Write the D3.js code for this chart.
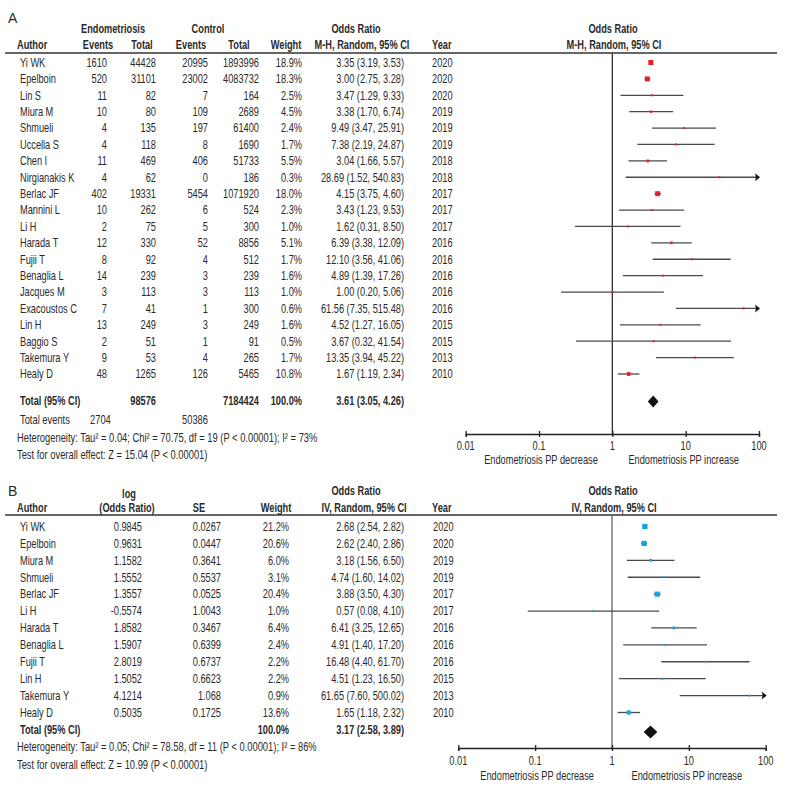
<!DOCTYPE html>
<html><head><meta charset="utf-8">
<script src="https://cdn.jsdelivr.net/npm/d3@7"></script>
<style>body{margin:0;background:#fff}</style>
</head><body>
<svg id="c" width="787" height="788"></svg>
<script>
// ---------- Panel A data ----------
const authorsA = ["Yi WK","Epelboin","Lin S","Miura M","Shmueli","Uccella S","Chen I","Nirgianakis K","Berlac JF","Mannini L","Li H","Harada T","Fujii T","Benaglia L","Jacques M","Exacoustos C","Lin H","Baggio S","Takemura Y","Healy D"];
const endoEvents = [1610,520,11,10,4,4,11,4,402,10,2,12,8,14,3,7,13,2,9,48];
const endoTotal = [44428,31101,82,80,135,118,469,62,19331,262,75,330,92,239,113,41,249,51,53,1265];
const ctrlEvents = [20995,23002,7,109,197,8,406,0,5454,6,5,52,4,3,3,1,3,1,4,126];
const ctrlTotal = [1893996,4083732,164,2689,61400,1690,51733,186,1071920,524,300,8856,512,239,113,300,249,91,265,5465];
const weightA = [18.9,18.3,2.5,4.5,2.4,1.7,5.5,0.3,18.0,2.3,1.0,5.1,1.7,1.6,1.0,0.6,1.6,0.5,1.7,10.8];
const orA = [3.35,3.00,3.47,3.38,9.49,7.38,3.04,28.69,4.15,3.43,1.62,6.39,12.10,4.89,1.00,61.56,4.52,3.67,13.35,1.67];
const loA = [3.19,2.75,1.29,1.70,3.47,2.19,1.66,1.52,3.75,1.23,0.31,3.38,3.56,1.39,0.20,7.35,1.27,0.32,3.94,1.19];
const hiA = [3.53,3.28,9.33,6.74,25.91,24.87,5.57,540.83,4.60,9.53,8.50,12.09,41.06,17.26,5.06,515.48,16.05,41.54,45.22,2.34];
const yearA = [2020,2020,2020,2019,2019,2019,2018,2018,2017,2017,2017,2016,2016,2016,2016,2016,2015,2015,2013,2010];
const totalA = {endoTotal:98576, ctrlTotal:7184424, endoEvents:2704, ctrlEvents:50386, or:3.61, lo:3.05, hi:4.26};
const hetA = "Heterogeneity: Tau\u00B2 = 0.04; Chi\u00B2 = 70.75, df = 19 (P < 0.00001); I\u00B2 = 73%";
const testA = "Test for overall effect: Z = 15.04 (P < 0.00001)";

// ---------- Panel B data ----------
const authorsB = ["Yi WK","Epelboin","Miura M","Shmueli","Berlac JF","Li H","Harada T","Benaglia L","Fujii T","Lin H","Takemura Y","Healy D"];
const logOR = [0.9845,0.9631,1.1582,1.5552,1.3557,-0.5574,1.8582,1.5907,2.8019,1.5052,4.1214,0.5035];
const seB = [0.0267,0.0447,0.3641,0.5537,0.0525,1.0043,0.3467,0.6399,0.6737,0.6623,1.068,0.1725];
const weightB = [21.2,20.6,6.0,3.1,20.4,1.0,6.4,2.4,2.2,2.2,0.9,13.6];
const orB = [2.68,2.62,3.18,4.74,3.88,0.57,6.41,4.91,16.48,4.51,61.65,1.65];
const loB = [2.54,2.40,1.56,1.60,3.50,0.08,3.25,1.40,4.40,1.23,7.60,1.18];
const hiB = [2.82,2.86,6.50,14.02,4.30,4.10,12.65,17.20,61.70,16.50,500.02,2.32];
const yearB = [2020,2020,2019,2019,2017,2017,2016,2016,2016,2015,2013,2010];
const totalB = {or:3.17, lo:2.58, hi:3.89};
const hetB = "Heterogeneity: Tau\u00B2 = 0.05; Chi\u00B2 = 78.58, df = 11 (P < 0.00001); I\u00B2 = 86%";
const testB = "Test for overall effect: Z = 10.99 (P < 0.00001)";

const tickVals = [0.01,0.1,1,10,100];
const tickLabels = ["0.01","0.1","1","10","100"];
const sideLabels = ["Endometriosis PP decrease","Endometriosis PP increase"];

// ---------- setup ----------
const svg = d3.select("#c");
const fam = "'Liberation Sans', Arial, sans-serif";
const TXT = "#2a2a2a";

function T(x, y, s, o = {}) {
  const fs = o.fs || 12;
  const sx = o.sx || 0.77;
  return svg.append("text")
    .attr("transform", `translate(${x},${y + fs*0.36}) scale(${sx},1)`)
    .attr("text-anchor", o.a || "start")
    .attr("font-weight", o.b ? "bold" : "normal")
    .attr("font-size", fs)
    .attr("font-family", fam)
    .attr("fill", TXT)
    .text(s);
}
const NOTE = {fs: 12, sx: 0.78};
const f2 = v => v.toFixed(2);
const ciTxt = (o,l,h) => `${f2(o)} (${f2(l)}, ${f2(h)})`;

function forest(x, yOf, n, ors, los, his, ws, color, yTop, axisY, ciColor, vColor, total, totalY, diamondH, tickLblY, sideY) {
  svg.append("line").attr("x1", x(1)).attr("x2", x(1)).attr("y1", yTop).attr("y2", axisY)
    .attr("stroke", vColor).attr("stroke-width", 1.3);
  for (let i = 0; i < n; i++) {
    const y = yOf(i);
    const lo = Math.max(los[i], 0.01), hi = Math.min(his[i], 100);
    svg.append("line").attr("x1", x(lo)).attr("x2", x(hi)).attr("y1", y).attr("y2", y)
      .attr("stroke", ciColor).attr("stroke-width", 1.3);
    if (his[i] > 100) {
      const xe = x(100);
      svg.append("path").attr("d", `M${xe+1},${y} L${xe-4},${y-4} L${xe-3},${y} L${xe-4},${y+4} Z`).attr("fill", "#111");
    }
    const s = Math.max(2, 1.15 * Math.sqrt(ws[i]));
    svg.append("rect").attr("x", x(ors[i]) - s/2).attr("y", y - s/2).attr("width", s).attr("height", s).attr("fill", color);
  }
  const dc = x(total.or), dl = x(total.lo), dr = x(total.hi);
  svg.append("path").attr("d", `M${dl},${totalY} L${dc},${totalY-diamondH} L${dr},${totalY} L${dc},${totalY+diamondH} Z`).attr("fill", "#111");
  const ax = svg.append("g").attr("transform", `translate(0,${axisY})`)
    .call(d3.axisBottom(x).tickValues(tickVals).tickFormat((d,i) => tickLabels[i]).tickSize(3).tickPadding(3));
  ax.select(".domain").attr("stroke", "#222").attr("stroke-width", 1.3);
  ax.selectAll(".tick line").attr("y1", -3).attr("y2", 3).attr("stroke", "#222").attr("stroke-width", 1.3);
  ax.selectAll(".tick text").remove();
  tickVals.forEach((v, i) => T(x(v), tickLblY, tickLabels[i], {a: "middle"}));
  T((x(0.01) + x(1)) / 2 + 2, sideY, sideLabels[0], {a: "middle"});
  T((x(1) + x(100)) / 2 - 2, sideY, sideLabels[1], {a: "middle"});
}

// ================= PANEL A =================
T(8, 18, "A", {fs: 14, sx: 1});
T(113, 29, "Endometriosis", {a:"middle", b:true});
T(208, 29, "Control", {a:"middle", b:true});
T(356, 29, "Odds Ratio", {a:"middle", b:true});
T(613, 29, "Odds Ratio", {a:"middle", b:true});
T(17, 45, "Author", {b:true});
T(98, 45, "Events", {a:"middle", b:true});
T(142, 45, "Total", {a:"middle", b:true});
T(191, 45, "Events", {a:"middle", b:true});
T(239, 45, "Total", {a:"middle", b:true});
T(286, 45, "Weight", {a:"middle", b:true});
T(362, 45, "M-H, Random, 95% CI", {a:"middle", b:true});
T(432, 45, "Year", {b:true});
T(614, 45, "M-H, Random, 95% CI", {a:"middle", b:true});
svg.append("line").attr("x1", 5).attr("x2", 777).attr("y1", 53).attr("y2", 53).attr("stroke", "#333").attr("stroke-width", 1.3);

const yA = d3.scalePoint().domain(d3.range(authorsA.length)).range([62.5, 374]);
authorsA.forEach((a, i) => {
  const y = yA(i);
  T(20, y, a);
  T(107, y, endoEvents[i], {a:"end"});
  T(156, y, endoTotal[i], {a:"end"});
  T(208, y, ctrlEvents[i], {a:"end"});
  T(259, y, ctrlTotal[i], {a:"end"});
  T(302, y, weightA[i].toFixed(1) + "%", {a:"end"});
  T(404, y, ciTxt(orA[i], loA[i], hiA[i]), {a:"end"});
  T(432, y, yearA[i]);
});
T(20, 401, "Total (95% CI)", {b:true});
T(156, 401, totalA.endoTotal, {a:"end", b:true});
T(259, 401, totalA.ctrlTotal, {a:"end", b:true});
T(302, 401, "100.0%", {a:"end", b:true});
T(404, 401, ciTxt(totalA.or, totalA.lo, totalA.hi), {a:"end", b:true});
T(20, 420, "Total events", NOTE);
T(90, 420, totalA.endoEvents, NOTE);
T(208, 420, totalA.ctrlEvents, Object.assign({a:"end"}, NOTE));
T(17, 438, hetA, NOTE);
T(17, 455, testA, NOTE);

const xA = d3.scaleLog().domain([0.01, 100]).range([465.7, 759]);
forest(xA, i => yA(i), authorsA.length, orA, loA, hiA, weightA, "#ec1c24", 53, 434, "#4a4a4a", "#333", totalA, 401.5, 6, 446, 460);

// ================= PANEL B =================
T(8, 491, "B", {fs: 14, sx: 1});
T(129, 494, "log", {a:"middle", b:true});
T(356, 491, "Odds Ratio", {a:"middle", b:true});
T(613, 491, "Odds Ratio", {a:"middle", b:true});
T(17, 508, "Author", {b:true});
T(127, 508, "(Odds Ratio)", {a:"middle", b:true});
T(199, 508, "SE", {a:"middle", b:true});
T(276, 508, "Weight", {a:"middle", b:true});
T(364, 508, "IV, Random, 95% CI", {a:"middle", b:true});
T(432, 508, "Year", {b:true});
T(614, 508, "IV, Random, 95% CI", {a:"middle", b:true});
svg.append("line").attr("x1", 5).attr("x2", 777).attr("y1", 515).attr("y2", 515).attr("stroke", "#333").attr("stroke-width", 1.3);

const yB = d3.scalePoint().domain(d3.range(authorsB.length)).range([526.5, 712.5]);
authorsB.forEach((a, i) => {
  const y = yB(i);
  T(20, y, a);
  T(142, y, String(logOR[i]), {a:"end"});
  T(221, y, String(seB[i]), {a:"end"});
  T(289, y, weightB[i].toFixed(1) + "%", {a:"end"});
  T(404, y, ciTxt(orB[i], loB[i], hiB[i]), {a:"end"});
  T(433, y, yearB[i]);
});
T(20, 730, "Total (95% CI)", {b:true});
T(289, 730, "100.0%", {a:"end", b:true});
T(404, 730, ciTxt(totalB.or, totalB.lo, totalB.hi), {a:"end", b:true});
T(17, 747, hetB, NOTE);
T(17, 765, testB, NOTE);

const xB = d3.scaleLog().domain([0.01, 100]).range([458.3, 765.7]);
forest(xB, i => yB(i), authorsB.length, orB, loB, hiB, weightB, "#1ba3dd", 515, 748, "#4a4a4a", "#666", totalB, 732, 6.5, 761, 776);
</script>
</body></html>
